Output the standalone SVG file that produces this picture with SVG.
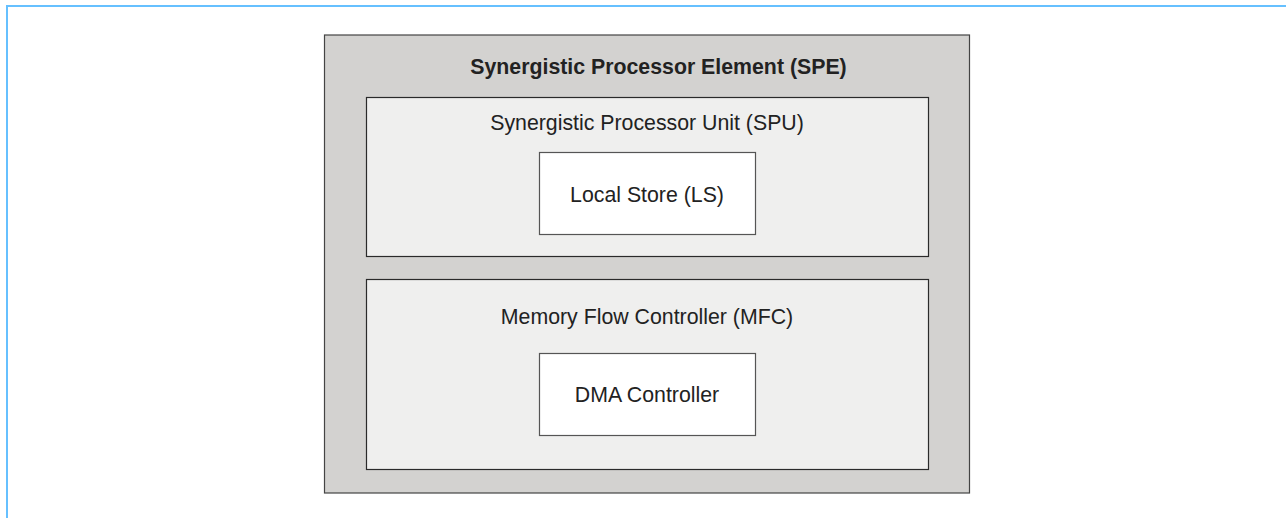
<svg xmlns="http://www.w3.org/2000/svg" width="1286" height="518" viewBox="0 0 1286 518">
<style>
.frame{fill:none;stroke:#66c0ff;stroke-width:2}
.outer{fill:#d3d2d0;stroke:#444;stroke-width:1.2}
.mid{fill:#efefee;stroke:#2a2a2a;stroke-width:1.2}
.inner{fill:#ffffff;stroke:#555;stroke-width:1.2}
text{font-family:"Liberation Sans",Arial,sans-serif;fill:#222;text-anchor:middle;font-size:21.3px}
.b{font-weight:bold}
</style>
<rect class="frame" x="7" y="6" width="1300" height="530"/>
<g id="spe">
<rect class="outer" x="324.5" y="35" width="645" height="458"/>
<text class="b" x="658.5" y="74">Synergistic Processor Element (SPE)</text>
</g>
<g id="spu">
<rect class="mid" x="366.5" y="97.5" width="562" height="159"/>
<text x="647" y="129.5">Synergistic Processor Unit (SPU)</text>
</g>
<g id="ls">
<rect class="inner" x="539.5" y="152.5" width="216" height="82"/>
<text x="647" y="202">Local Store (LS)</text>
</g>
<g id="mfc">
<rect class="mid" x="366.5" y="279.5" width="562" height="190"/>
<text x="647" y="323.5">Memory Flow Controller (MFC)</text>
</g>
<g id="dma">
<rect class="inner" x="539.5" y="353.5" width="216" height="82"/>
<text x="647" y="402">DMA Controller</text>
</g>
<g id="connectors"/>
</svg>
